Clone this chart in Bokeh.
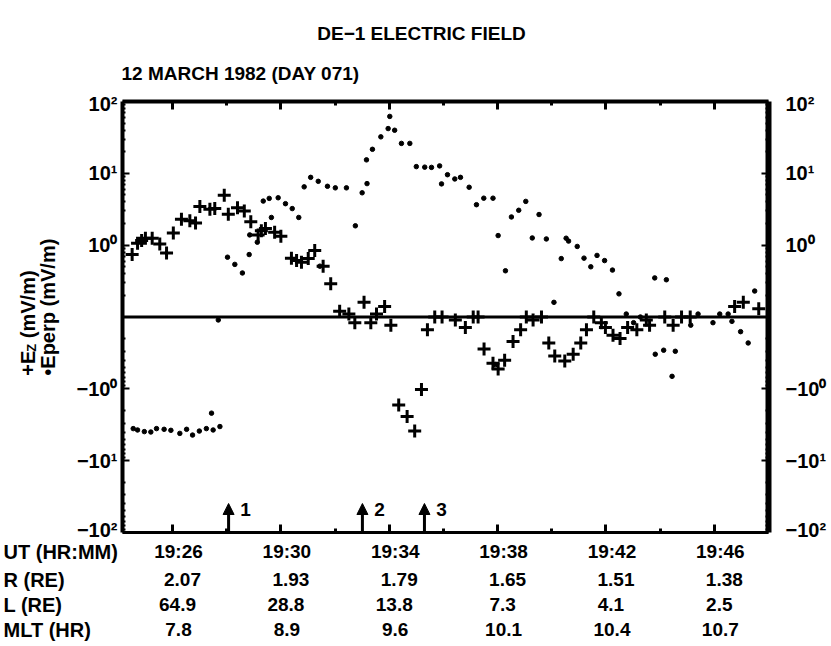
import math
from bokeh.plotting import figure
from bokeh.layouts import column, row
from bokeh.models import (ColumnDataSource, Range1d, FixedTicker, LinearAxis, Span, Label,
                          Arrow, NormalHead, CustomJSTransform)
from bokeh.core.properties import value
from bokeh.transform import transform
from bokeh.embed import file_html
from bokeh.resources import INLINE

# ---------------- data (time = minutes after 19:00 UT, values in mV/m) ----------------
ez_time = [24.51, 24.71, 24.86, 25.00, 25.25, 25.53, 25.78, 26.03, 26.33, 26.64, 26.85, 27.01,
           27.38, 27.56, 27.91, 28.06, 28.40, 28.65, 28.89, 29.16, 29.28, 29.43, 29.77, 30.00,
           30.39, 30.58, 30.76, 31.01, 31.25, 31.56, 31.84, 32.17, 32.51, 32.73, 33.07, 33.32,
           33.53, 33.83, 34.06, 34.35, 34.66, 34.94, 35.19, 35.41, 35.68, 35.95, 36.44, 36.81,
           37.10, 37.28, 37.50, 37.83, 38.02, 38.26, 38.57, 38.85, 39.06, 39.31, 39.62, 39.89,
           40.11, 40.48, 40.79, 41.07, 41.28, 41.55, 41.83, 41.98, 42.26, 42.52, 42.80, 43.14,
           43.49, 43.61, 44.17, 44.48, 44.79, 45.11, 46.75, 47.07, 47.64]
ez_value = [0.74, 1.06, 1.16, 1.25, 1.25, 1.04, 0.78, 1.48, 2.30, 2.18, 2.03, 3.44,
            3.16, 3.23, 4.97, 2.70, 3.33, 2.99, 2.11, 1.39, 1.59, 1.71, 1.51, 1.33,
            0.66, 0.61, 0.58, 0.65, 0.84, 0.51, 0.29, 0.12, 0.11, -0.12, 0.16, -0.12,
            0.11, 0.14, -0.13, -1.68, -2.42, -3.87, -1.02, -0.15, 0.10, 0.10, -0.11, -0.14,
            0.10, 0.10, -0.28, -0.44, -0.53, -0.40, -0.22, -0.15, 0.10, -0.11, 0.10, -0.23,
            -0.35, -0.41, -0.33, -0.23, -0.15, -0.10, -0.12, -0.14, -0.18, -0.20, -0.14, -0.15,
            -0.11, -0.13, 0.10, -0.13, 0.10, 0.10, 0.14, 0.16, 0.13]

eperp_time = [24.55, 24.71, 24.96, 25.20, 25.41, 25.69, 25.94, 26.27, 26.52, 26.74, 26.99, 27.25,
              27.50, 27.75, 27.44, 27.69,
              28.03, 28.30, 28.58, 28.83, 28.85, 29.13, 29.35, 29.57, 29.65, 29.90, 30.17, 30.42,
              30.66, 30.86, 31.10, 31.38, 31.44, 31.72, 32.01, 32.42, 32.75, 33.00, 33.18, 33.16,
              33.38, 33.69, 33.96, 34.02, 34.20, 34.45, 34.76, 35.00, 35.31, 35.56, 35.86, 35.93,
              36.15, 36.42, 36.63, 36.95, 37.22, 37.49, 37.83, 37.92, 38.02, 38.29, 38.51, 38.78,
              39.04, 39.28, 39.53, 39.80, 40.08, 40.35, 40.53, 40.62, 40.94, 41.19, 41.44, 41.67,
              41.95, 42.24, 42.48, 42.75, 43.02, 43.27, 43.80, 43.82, 44.13, 44.23, 44.44, 44.56,
              45.13, 45.40, 45.95, 46.20, 46.51, 46.65, 46.97, 47.25, 47.49]
eperp_value = [-3.58, -3.74, -3.94, -3.99, -3.58, -3.66, -3.78, -4.17, -3.66, -4.40, -3.87, -3.58,
               -3.74, -3.35, -2.18, -0.11,
               0.68, 0.54, 0.41, 0.74, 1.39, 1.10, 4.11, 4.48, 2.43, 4.57, 3.78, 3.23,
               2.43, 6.48, 8.79, 7.74, 0.51, 6.60, 6.28, 6.28, 1.86, 5.36, 7.19, 15.4,
               21.6, 32.2, 42.0, 62.0, 39.8, 26.1, 26.1, 12.4, 12.2, 12.1, 12.7, 7.13,
               9.57, 8.35, 8.79, 6.40, 3.66, 4.51, 4.51, -0.46, 1.36, 0.44, 2.47, 3.06,
               4.07, 1.26, 2.67, 1.22, 0.16, 0.65, 1.25, 1.14, 0.96, 0.66, 0.50, 0.72,
               0.61, 0.45, 0.21, 0.11, -0.12, 0.10, 0.35, -0.33, -0.29, 0.33, -0.67, -0.30,
               -0.13, 0.11, -0.12, 0.11, 0.11, -0.115, -0.16, -0.23, 0.23]

event_time = [28.07, 33.01, 35.30]
event_label = ["1", "2", "3"]

ut_ticks = [26, 30, 34, 38, 42, 46]
ut_labels = ["19:26", "19:30", "19:34", "19:38", "19:42", "19:46"]
r_labels = ["2.07", "1.93", "1.79", "1.65", "1.51", "1.38"]
l_labels = ["64.9", "28.8", "13.8", "7.3", "4.1", "2.5"]
mlt_labels = ["7.8", "8.9", "9.6", "10.1", "10.4", "10.7"]
row_heads = ["UT (HR:MM)", "R (RE)", "L (RE)", "MLT (HR)"]

y_decades = [-3, -2, -1, 1, 2, 3]
y_decade_labels = {3: "10\u00b2", 2: "10\u00b9", 1: "10\u2070",
                   -1: "\u221210\u2070", -2: "\u221210\u00b9", -3: "\u221210\u00b2"}

title_text = "DE\u22121 ELECTRIC FIELD"
subtitle_text = "12 MARCH 1982 (DAY 071)"

# ---------------- layout (page pixels) ----------------
TOTAL_W = 829
TOP_H = 92                 # header strip
LEFT_W = 70                # y-title strip
FL, FT, FW, FH = 122, 101, 646, 431      # plot frame in page pixels
MAIN_W = TOTAL_W - LEFT_W
MAIN_TOP_B = FT - TOP_H
MAIN_BOT_B = 8
MAIN_H = MAIN_TOP_B + FH + MAIN_BOT_B
TABLE_TOP = TOP_H + MAIN_H
TABLE_H = 104
X_START, X_END = 24.154, 48.0

FONT = value("Liberation Sans")
BOLD = value("bold")


def xd(px):
    return X_START + (px - FL) * (X_END - X_START) / FW


def yd(py):
    return 3 - (py - FT) * 6.0 / FH


def blank(width, height, xr, yr):
    f = figure(width=width, height=height, x_range=xr, y_range=yr, output_backend="svg",
               toolbar_location=None, x_axis_location=None, y_axis_location=None,
               min_border=0)
    f.outline_line_color = None
    f.xgrid.visible = False
    f.ygrid.visible = False
    return f


# ---------------- main plot ----------------
p = figure(width=MAIN_W, height=MAIN_H, x_range=Range1d(X_START, X_END), y_range=Range1d(-3, 3),
           output_backend="svg", toolbar_location=None,
           x_axis_location=None, y_axis_location=None,
           min_border_left=FL - LEFT_W, min_border_right=MAIN_W - (FL - LEFT_W) - FW,
           min_border_top=MAIN_TOP_B, min_border_bottom=MAIN_BOT_B)
p.outline_line_color = None
p.xgrid.visible = False
p.ygrid.visible = False

# symmetric-log transform: |v|<=0.1 -> 0, else sign(v)*(1+log10|v|)
symlog = CustomJSTransform(v_func="""
const out = new Array(xs.length);
for (let i = 0; i < xs.length; i++) {
  const a = Math.abs(xs[i]);
  out[i] = a <= 0.1 ? 0 : Math.sign(xs[i]) * (1 + Math.log10(a));
}
return out;
""")

minor_y = []
for n in range(3):
    for k in range(2, 10):
        v = n + math.log10(k)
        minor_y += [v, -v]
yticker = FixedTicker(ticks=y_decades, minor_ticks=sorted(minor_y))


def yaxis(line_w, standoff):
    return LinearAxis(ticker=yticker, major_label_overrides=y_decade_labels,
                      axis_line_width=line_w, axis_line_color="black",
                      major_tick_in=7, major_tick_out=0, major_tick_line_width=2,
                      minor_tick_in=3, minor_tick_out=0, minor_tick_line_width=2,
                      major_label_standoff=standoff,
                      major_label_text_font="Liberation Sans", major_label_text_font_style="bold",
                      major_label_text_font_size="20px", major_label_text_color="black")


p.add_layout(yaxis(4, 5), "left")
p.add_layout(yaxis(6, 17), "right")

xticker = FixedTicker(ticks=ut_ticks, minor_ticks=[28, 32, 36, 40, 44])


def xaxis(line_w):
    return LinearAxis(ticker=xticker, axis_line_width=line_w, axis_line_color="black",
                      major_tick_in=8, major_tick_out=0, major_tick_line_width=3,
                      minor_tick_in=4, minor_tick_out=0, minor_tick_line_width=3,
                      major_label_overrides={t: "" for t in ut_ticks},
                      major_label_text_font_size="10px", major_label_standoff=0)


p.add_layout(xaxis(3), "below")
p.add_layout(xaxis(4), "above")

p.add_layout(Span(location=0, dimension="width", line_color="black", line_width=3))

ez_src = ColumnDataSource(dict(t=ez_time, v=ez_value))
ep_src = ColumnDataSource(dict(t=eperp_time, v=eperp_value))
p.scatter(x="t", y=transform("v", symlog), source=ep_src, marker="circle", size=4.5,
          fill_color="black", line_color="black", line_width=1)
p.scatter(x="t", y=transform("v", symlog), source=ez_src, marker="cross", size=13,
          line_color="black", line_width=3)

arrow_top = yd(503)
arr_src = ColumnDataSource(dict(x=event_time, y0=[-3] * len(event_time),
                                y1=[arrow_top] * len(event_time)))
p.add_layout(Arrow(end=NormalHead(size=11, fill_color="black", line_color="black", line_width=1),
                   x_start="x", y_start="y0", x_end="x", y_end="y1", source=arr_src,
                   line_width=3, line_color="black"))
for t, lab in zip(event_time, event_label):
    p.add_layout(Label(x=t, y=yd(509), text=lab, x_offset=17, text_align="center",
                       text_baseline="alphabetic", text_font="Liberation Sans",
                       text_font_style="bold", text_font_size="19px", text_color="black"))

# ---------------- header strip (title, subtitle) ----------------
top = blank(TOTAL_W, TOP_H, Range1d(0, TOTAL_W), Range1d(TOP_H, 0))
hdr = ColumnDataSource(dict(x=[421, 121], y=[33, 73], text=[title_text, subtitle_text],
                            align=["center", "left"]))
top.text(x="x", y="y", text="text", source=hdr, text_align="align",
         text_baseline="alphabetic", text_font=FONT, text_font_style=BOLD,
         text_font_size=value("19px"), text_color="black")

# ---------------- left strip (rotated y titles) ----------------
left = blank(LEFT_W, MAIN_H, Range1d(0, LEFT_W), Range1d(MAIN_H + TOP_H, TOP_H))
ybase = 377
rot = math.pi / 2
left.text(x=[27], y=[ybase], text=["+E"], angle=rot, text_align="left", text_baseline="middle",
          text_font=FONT, text_font_style=BOLD, text_font_size=value("20px"), text_color="black")
left.text(x=[31], y=[ybase - 25], text=["Z"], angle=rot, text_align="left",
          text_baseline="middle", text_font=FONT, text_font_style=BOLD,
          text_font_size=value("13px"), text_color="black")
left.text(x=[27], y=[ybase - 39], text=["(mV/m)"], angle=rot, text_align="left",
          text_baseline="middle", text_font=FONT, text_font_style=BOLD,
          text_font_size=value("20px"), text_color="black")
left.text(x=[47], y=[ybase], text=["\u2022Eperp (mV/m)"], angle=rot, text_align="left",
          text_baseline="middle", text_font=FONT, text_font_style=BOLD,
          text_font_size=value("20px"), text_color="black")

# ---------------- bottom table ----------------
table = blank(TOTAL_W, TABLE_H, Range1d(xd(0), xd(TOTAL_W)),
              Range1d(TABLE_TOP + TABLE_H, TABLE_TOP))
row_y = [551, 579, 604, 629]
row_vals = [ut_labels, r_labels, l_labels, mlt_labels]
row_off = [6, 10, 5, 6]
table.text(x=[xd(3)] * 4, y=row_y, text=row_heads, text_align="left",
           text_baseline="alphabetic", text_font=FONT, text_font_style=BOLD,
           text_font_size=value("20px"), text_color="black")
for vals, yy, off in zip(row_vals, row_y, row_off):
    src = ColumnDataSource(dict(x=ut_ticks, text=vals))
    table.text(x="x", y=yy, text="text", source=src, x_offset=off, text_align="center",
               text_baseline="alphabetic", text_font=FONT, text_font_style=BOLD,
               text_font_size=value("19px"), text_color="black")

layout = column(top, row(left, p), table)
html = file_html(layout, INLINE, title="DE-1 Electric Field")
with open("out.html", "w") as f:
    f.write(html)
